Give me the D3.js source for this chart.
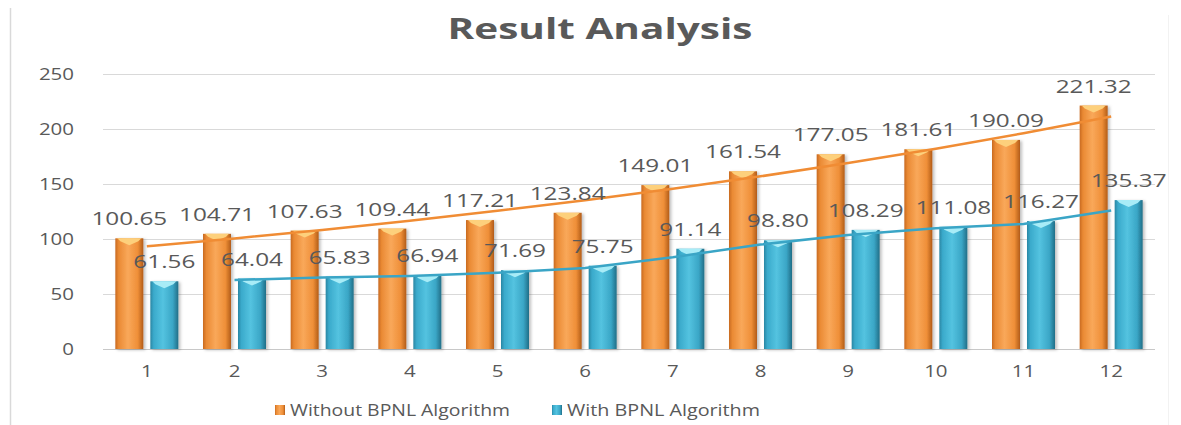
<!DOCTYPE html>
<html>
<head>
<meta charset="utf-8">
<script src="https://cdn.jsdelivr.net/npm/d3@7"></script>
<style>
  body { margin: 0; background: #fff; }
  text { font-family: "Open Sans", sans-serif; fill: #595959; }
</style>
</head>
<body>
<div id="chart"></div>
<script>
// data
const categories = ["1", "2", "3", "4", "5", "6", "7", "8", "9", "10", "11", "12"];
const withoutBPNL = [100.65, 104.71, 107.63, 109.44, 117.21, 123.84, 149.01, 161.54, 177.05, 181.61, 190.09, 221.32];
const withBPNL = [61.56, 64.04, 65.83, 66.94, 71.69, 75.75, 91.14, 98.80, 108.29, 111.08, 116.27, 135.37];
const yTicks = [0, 50, 100, 150, 200, 250];
const seriesNames = ["Without BPNL Algorithm", "With BPNL Algorithm"];

const width = 1181, height = 425;
const SX = 1.28; // the reference text is stretched sideways

const svg = d3.select("#chart").append("svg")
    .attr("width", width)
    .attr("height", height);

const defs = svg.append("defs");
function barGradient(id, stops) {
    let g = defs.append("linearGradient").attr("id", id)
        .attr("x1", "0%").attr("x2", "100%").attr("y1", "0%").attr("y2", "0%");
    stops.forEach(s => g.append("stop").attr("offset", s[0]).attr("stop-color", s[1]));
}
barGradient("gOrange", [["0%", "#c86a20"], ["12%", "#ea8a34"], ["45%", "#f9a85a"], ["80%", "#ef8f38"], ["100%", "#b25c18"]]);
barGradient("gBlue", [["0%", "#2a86a3"], ["12%", "#3aaacb"], ["45%", "#54c3e0"], ["80%", "#3aa6c6"], ["100%", "#216e87"]]);
defs.append("filter").attr("id", "shadow")
    .attr("x", "-20%").attr("y", "-5%").attr("width", "150%").attr("height", "115%")
    .append("feDropShadow")
    .attr("dx", 2).attr("dy", 1).attr("stdDeviation", 1.5)
    .attr("flood-color", "#000").attr("flood-opacity", 0.25);

// frame lines
svg.append("line").attr("x1", 10.5).attr("x2", 10.5).attr("y1", 8).attr("y2", height)
    .attr("stroke", "#d9d9d9").attr("stroke-width", 1.5);
svg.append("line").attr("x1", 1168.5).attr("x2", 1168.5).attr("y1", 15).attr("y2", height)
    .attr("stroke", "#f2f2f2");

// scales
let x = d3.scaleBand()
    .domain(categories)
    .range([103, 1155]);
let y = d3.scaleLinear()
    .domain([0, 250])
    .range([349, 74]);
const cx = c => x(c) + x.bandwidth() / 2;
const barW = 28, gap = 3.5;

// title
svg.append("text")
    .attr("x", 600).attr("y", 39)
    .attr("text-anchor", "middle")
    .attr("font-size", 29).attr("font-weight", "bold")
    .attr("textLength", 305).attr("lengthAdjust", "spacingAndGlyphs")
    .text("Result Analysis");

// gridlines
svg.append("g").selectAll("line").data(yTicks).enter()
    .append("line")
    .attr("x1", 103).attr("x2", 1155)
    .attr("y1", d => Math.round(y(d)) + 0.5).attr("y2", d => Math.round(y(d)) + 0.5)
    .attr("stroke", d => d === 0 ? "#c8c8c8" : "#d9d9d9");

// y axis labels
let yAxis = svg.append("g")
    .attr("transform", "translate(74,0)")
    .call(d3.axisLeft(y).tickValues(yTicks).tickSize(0).tickPadding(0));
yAxis.select(".domain").remove();
yAxis.selectAll("text")
    .attr("font-size", 16).attr("fill", "#595959")
    .attr("font-family", "Open Sans")
    .attr("transform", `scale(${SX},1)`)
    .attr("x", 0)
    .attr("text-anchor", "end");
yAxis.selectAll(".tick").each(function () {
    // keep right edge at 74 after scaling
    d3.select(this).select("text").attr("x", 0);
});

// x axis labels
let xAxis = svg.append("g")
    .attr("transform", "translate(0,366)")
    .call(d3.axisBottom(x).tickSize(0).tickPadding(0));
xAxis.select(".domain").remove();
xAxis.selectAll("text")
    .attr("font-size", 16).attr("fill", "#595959")
    .attr("font-family", "Open Sans")
    .attr("dy", "0.71em")
    .attr("transform", `scale(${SX},1)`);

// bars
const series = [
    { name: seriesNames[0], values: withoutBPNL, grad: "url(#gOrange)", cap: "#fdd07c", off: -gap - barW },
    { name: seriesNames[1], values: withBPNL, grad: "url(#gBlue)", cap: "#a8ecf7", off: gap }
];

series.forEach(s => {
    let g = svg.append("g").attr("class", "bars");
    let data = categories.map((c, i) => ({ c: c, v: s.values[i] }));
    g.selectAll("rect").data(data).enter()
        .append("rect")
        .attr("x", d => cx(d.c) + s.off)
        .attr("y", d => y(d.v))
        .attr("width", barW)
        .attr("height", d => y(0) - y(d.v))
        .attr("fill", s.grad)
        .attr("filter", "url(#shadow)");
    // light pointed cap on top of each bar
    g.selectAll("path").data(data).enter()
        .append("path")
        .attr("d", d => {
            let x0 = cx(d.c) + s.off, x1 = x0 + barW, t = y(d.v);
            return `M${x0 + 2},${t} L${x1 - 2},${t} L${x1 - 5},${t + 3} L${(x0 + x1) / 2},${t + 7} L${x0 + 5},${t + 3} Z`;
        })
        .attr("fill", s.cap);
});

// trendlines: exponential fit for orange, 2-period moving average for blue
function expFit(vals) {
    let n = vals.length, xs = vals.map((v, i) => i + 1), ls = vals.map(v => Math.log(v));
    let mx = d3.mean(xs), ml = d3.mean(ls);
    let b = d3.sum(xs, (xi, i) => (xi - mx) * (ls[i] - ml)) / d3.sum(xs, xi => (xi - mx) * (xi - mx));
    let a = ml - b * mx;
    return vals.map((v, i) => ({ c: categories[i], v: Math.exp(a + b * (i + 1)) }));
}
function movingAvg(vals) {
    return vals.slice(1).map((v, i) => ({ c: categories[i + 1], v: (v + vals[i]) / 2 }));
}

svg.append("path")
    .datum(expFit(withoutBPNL))
    .attr("fill", "none").attr("stroke", "#f08c34").attr("stroke-width", 2.5)
    .attr("d", d3.line().x(d => cx(d.c)).y(d => y(d.v)).curve(d3.curveMonotoneX));
svg.append("path")
    .datum(movingAvg(withBPNL))
    .attr("fill", "none").attr("stroke", "#3aa5c6").attr("stroke-width", 2.5)
    .attr("d", d3.line().x(d => cx(d.c)).y(d => y(d.v)));

// data labels
series.forEach(s => {
    let data = categories.map((c, i) => ({ c: c, v: s.values[i] }));
    svg.append("g").selectAll("g").data(data).enter()
        .append("g")
        .attr("transform", d => `translate(${cx(d.c) + s.off + barW / 2},${y(d.v) - 13})`)
        .append("text")
        .attr("text-anchor", "middle")
        .attr("font-size", 19)
        .attr("fill", "#404040")
        .attr("transform", `scale(${SX},1)`)
        .text(d => d.v.toFixed(2));
});

// legend
const legend = [
    { name: seriesNames[0], grad: "url(#gOrange)", x: 275, w: 220 },
    { name: seriesNames[1], grad: "url(#gBlue)", x: 552, w: 193 }
];
let lg = svg.append("g").selectAll("g").data(legend).enter().append("g");
lg.append("rect")
    .attr("x", d => d.x).attr("y", 405)
    .attr("width", 10).attr("height", 10)
    .attr("fill", d => d.grad);
lg.append("text")
    .attr("x", d => d.x + 15).attr("y", 416)
    .attr("font-size", 16)
    .attr("textLength", d => d.w).attr("lengthAdjust", "spacingAndGlyphs")
    .text(d => d.name);
</script>
</body>
</html>
